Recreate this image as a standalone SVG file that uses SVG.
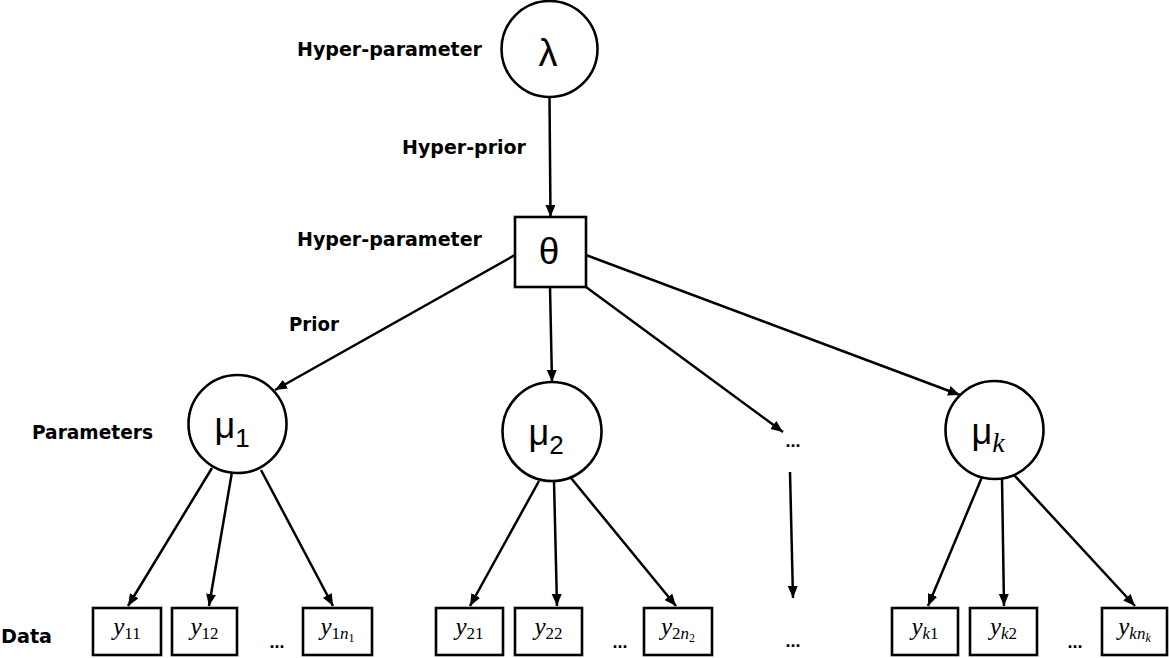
<svg xmlns="http://www.w3.org/2000/svg" width="1169" height="658" viewBox="0 0 1169 658">
<style>
.lbl{font-family:"DejaVu Sans","Liberation Sans",sans-serif;font-weight:bold;font-size:19px;fill:#000}
.node{fill:#fff;stroke:#000;stroke-width:2.6}
.gk{font-family:"Liberation Sans","DejaVu Sans",sans-serif;fill:#000;text-anchor:middle}
.dat{font-family:"Liberation Serif","DejaVu Serif",serif;fill:#000;text-anchor:middle;font-size:25px}
.it{font-style:italic}
.dots{font-family:"Liberation Sans",sans-serif;font-size:18px;font-weight:bold;fill:#000;text-anchor:middle}
.edge{stroke:#000;stroke-width:2.5;fill:none;marker-end:url(#ah)}
</style>
<defs>
<marker id="ah" markerUnits="userSpaceOnUse" markerWidth="14" markerHeight="11" refX="12" refY="5" orient="auto">
<path d="M0,0 L12,5 L0,10 z" fill="#000"/>
</marker>
</defs>
<rect width="1169" height="658" fill="#fff"/>

<g id="labels">
<text class="lbl" x="297" y="56" textLength="185" lengthAdjust="spacingAndGlyphs">Hyper-parameter</text>
<text class="lbl" x="402" y="154" textLength="124" lengthAdjust="spacingAndGlyphs">Hyper-prior</text>
<text class="lbl" x="297" y="246" textLength="185" lengthAdjust="spacingAndGlyphs">Hyper-parameter</text>
<text class="lbl" x="289" y="331" textLength="50" lengthAdjust="spacingAndGlyphs">Prior</text>
<text class="lbl" x="32" y="439" textLength="121" lengthAdjust="spacingAndGlyphs">Parameters</text>
<text class="lbl" x="1" y="643" textLength="51" lengthAdjust="spacingAndGlyphs">Data</text>
</g>

<g id="connectors">
<line class="edge" x1="549.5" y1="97" x2="550.5" y2="217"/>
<line class="edge" x1="515" y1="255" x2="275" y2="390"/>
<line class="edge" x1="550" y1="287" x2="552" y2="382"/>
<line class="edge" x1="586" y1="287" x2="783" y2="432"/>
<line class="edge" x1="586" y1="255" x2="960" y2="395"/>
<line class="edge" x1="212" y1="468" x2="128" y2="606"/>
<line class="edge" x1="232" y1="472" x2="209" y2="606"/>
<line class="edge" x1="261" y1="470" x2="333" y2="606"/>
<line class="edge" x1="539" y1="481" x2="470" y2="606"/>
<line class="edge" x1="554" y1="481" x2="557" y2="606"/>
<line class="edge" x1="571" y1="478" x2="676" y2="606"/>
<line class="edge" x1="790" y1="472" x2="793" y2="598"/>
<line class="edge" x1="982" y1="477" x2="928" y2="606"/>
<line class="edge" x1="1002" y1="478" x2="1004" y2="606"/>
<line class="edge" x1="1014" y1="475" x2="1135" y2="606"/>
</g>

<g id="lambda">
<circle class="node" cx="549.5" cy="49" r="48"/>
<text class="gk" x="548" y="66" font-size="38">λ</text>
</g>
<g id="theta">
<rect class="node" x="515" y="217" width="71" height="70"/>
<text class="gk" x="549" y="264" font-size="37">θ</text>
</g>
<g id="mu1">
<circle class="node" cx="237.5" cy="424" r="49"/>
<text class="gk" x="232" y="438" font-size="36">μ<tspan font-size="26" dy="9">1</tspan></text>
</g>
<g id="mu2">
<circle class="node" cx="552" cy="431.5" r="49.5"/>
<text class="gk" x="546" y="445" font-size="36">μ<tspan font-size="26" dy="9">2</tspan></text>
</g>
<g id="muk">
<circle class="node" cx="994.5" cy="430" r="49"/>
<text class="gk" x="988" y="444" font-size="36">μ<tspan font-size="28" dy="8" font-family="Liberation Serif" font-style="italic">k</tspan></text>
</g>

<g id="y11"><rect class="node" x="93" y="608" width="68" height="47"/>
<text class="dat" x="127" y="635"><tspan class="it">y</tspan><tspan font-size="17" dy="4">11</tspan></text></g>
<g id="y12"><rect class="node" x="172" y="608" width="65" height="47"/>
<text class="dat" x="204.5" y="635"><tspan class="it">y</tspan><tspan font-size="17" dy="4">12</tspan></text></g>
<g id="y1n1"><rect class="node" x="303" y="608" width="69" height="47"/>
<text class="dat" x="337.5" y="635"><tspan class="it">y</tspan><tspan font-size="17" dy="4">1</tspan><tspan font-size="17" class="it">n</tspan><tspan font-size="12" dy="3">1</tspan></text></g>

<g id="y21"><rect class="node" x="436" y="608" width="67" height="47"/>
<text class="dat" x="469.5" y="635"><tspan class="it">y</tspan><tspan font-size="17" dy="4">21</tspan></text></g>
<g id="y22"><rect class="node" x="515" y="608" width="67" height="47"/>
<text class="dat" x="548.5" y="635"><tspan class="it">y</tspan><tspan font-size="17" dy="4">22</tspan></text></g>
<g id="y2n2"><rect class="node" x="644" y="608" width="68" height="47"/>
<text class="dat" x="678" y="635"><tspan class="it">y</tspan><tspan font-size="17" dy="4">2</tspan><tspan font-size="17" class="it">n</tspan><tspan font-size="12" dy="3">2</tspan></text></g>

<g id="yk1"><rect class="node" x="892" y="608" width="66" height="47"/>
<text class="dat" x="925" y="635"><tspan class="it">y</tspan><tspan font-size="17" dy="4" class="it">k</tspan><tspan font-size="17">1</tspan></text></g>
<g id="yk2"><rect class="node" x="970" y="608" width="67" height="47"/>
<text class="dat" x="1003.5" y="635"><tspan class="it">y</tspan><tspan font-size="17" dy="4" class="it">k</tspan><tspan font-size="17">2</tspan></text></g>
<g id="yknk"><rect class="node" x="1102" y="608" width="65" height="47"/>
<text class="dat" x="1134.5" y="635"><tspan class="it">y</tspan><tspan font-size="17" dy="4" class="it">kn</tspan><tspan font-size="12" dy="3" class="it">k</tspan></text></g>

<g id="ellipses">
<text class="dots" x="277" y="648">...</text>
<text class="dots" x="620" y="648">...</text>
<text class="dots" x="1075" y="648">...</text>
<text class="dots" x="793" y="447">...</text>
<text class="dots" x="793" y="647">...</text>
</g>
</svg>
